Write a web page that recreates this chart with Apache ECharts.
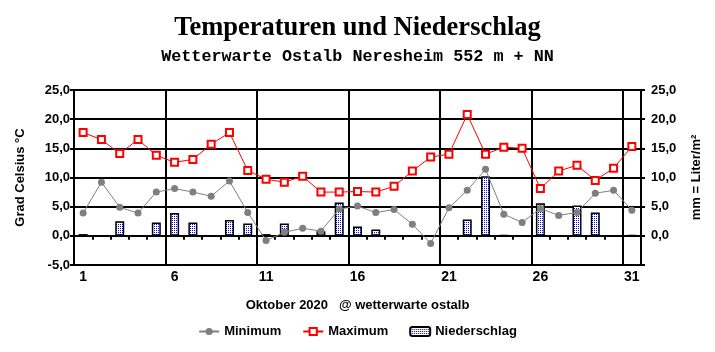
<!DOCTYPE HTML>
<html>

<head>
	<meta charset="utf-8" />
	<title>Temperaturen und Niederschlag</title>
	<script src="https://cdn.jsdelivr.net/npm/echarts@6/dist/echarts.min.js"></script>
	<style>
		body { margin: 0; background: #fff; }
		#main { width: 715px; height: 352px; }
	</style>
</head>

<body>
	<div id="main"></div>
	<script type="text/javascript">
		// Oktober 2020, days 1..31
		var days = [];
		for (var d = 1; d <= 31; d++) days.push(String(d));

		var tempMin = [3.9, 9.2, 4.9, 3.9, 7.5, 8.1, 7.5, 6.8, 9.4, 4.0,
			-0.8, 0.6, 1.3, 0.8, 4.6, 5.1, 4.0, 4.5, 2.0, -1.3,
			4.8, 7.8, 11.4, 3.7, 2.3, 4.7, 3.5, 4.0, 7.3, 7.8, 4.4];

		var tempMax = [17.7, 16.5, 14.1, 16.5, 13.8, 12.6, 13.1, 15.7, 17.7, 11.2,
			9.7, 9.2, 10.2, 7.5, 7.5, 7.6, 7.5, 8.5, 11.1, 13.5,
			14.0, 20.8, 14.0, 15.2, 15.0, 8.1, 11.1, 12.1, 9.5, 11.6, 15.3];

		var rain = [0.3, 0, 2.5, 0, 2.3, 3.9, 2.3, 0, 2.7, 2.1,
			0.3, 2.1, 0, 0.8, 5.7, 1.6, 1.1, 0, 0, 0,
			0, 2.8, 10.2, 0.1, 0, 5.6, 0, 5.2, 4.0, 0, 0.1];

		var fmt = function (v) { return v.toFixed(1).replace(".", ","); };

		// dotted blue fill for the rain bars
		var pat = document.createElement("canvas");
		pat.width = 2;
		pat.height = 2;
		var pctx = pat.getContext("2d");
		pctx.fillStyle = "#ffffff";
		pctx.fillRect(0, 0, 2, 2);
		pctx.fillStyle = "#0000ff";
		pctx.fillRect(0, 0, 1, 1);

		var bold = { fontFamily: "Liberation Sans, Arial", fontWeight: "bold", fontSize: 13, color: "#000" };

		var myChart = echarts.init(document.getElementById("main"));

		var option = {
			animation: false,
			backgroundColor: "#fff",
			title: [{
				text: "Temperaturen und Niederschlag",
				left: "center",
				top: 10,
				textStyle: { fontFamily: "Liberation Serif, Times New Roman", fontWeight: "bold", fontSize: 26.5, color: "#000" }
			}, {
				text: "Wetterwarte Ostalb Neresheim 552 m + NN",
				left: "center",
				top: 43,
				textStyle: { fontFamily: "Liberation Mono, Courier New", fontWeight: "bold", fontSize: 16.8, color: "#000" }
			}, {
				text: "Oktober 2020   @ wetterwarte ostalb",
				left: "center",
				top: 294,
				textStyle: bold
			}],
			legend: {
				bottom: 9,
				left: "center",
				itemGap: 21,
				itemWidth: 20,
				itemHeight: 9,
				textStyle: bold,
				data: ["Minimum", "Maximum", "Niederschlag"]
			},
			grid: {
				left: 74,
				right: 74,
				top: 90,
				bottom: 87,
				show: true,
				borderColor: "#000",
				borderWidth: 2
			},
			xAxis: [{
				type: "category",
				data: days,
				position: "bottom",
				axisLine: { onZero: false, lineStyle: { color: "#000", width: 2 } },
				axisTick: { show: false },
				axisLabel: { interval: 4, margin: 5, fontFamily: "Liberation Sans, Arial", fontWeight: "bold", fontSize: 14, color: "#000" },
				splitLine: { show: true, interval: 4, lineStyle: { color: "#000", width: 2 } }
			}, {
				type: "category",
				data: days,
				position: "bottom",
				axisLine: { onZero: true, lineStyle: { color: "#000", width: 2 } },
				axisTick: { show: true, interval: 0, length: 4, lineStyle: { color: "#000", width: 2 } },
				axisLabel: { show: false },
				splitLine: { show: false }
			}],
			yAxis: [{
				type: "value",
				min: -5,
				max: 25,
				interval: 5,
				position: "left",
				name: "Grad Celsius °C",
				nameLocation: "middle",
				nameRotate: 90,
				nameGap: 47,
				nameTextStyle: bold,
				axisLine: { show: true, lineStyle: { color: "#000", width: 2 } },
				axisTick: { show: true, length: 4, lineStyle: { color: "#000", width: 2 } },
				axisLabel: { formatter: fmt, margin: 4, fontFamily: "Liberation Sans, Arial", fontWeight: "bold", fontSize: 13, color: "#000" },
				splitLine: { show: true, lineStyle: { color: "#000", width: 2 } }
			}, {
				type: "value",
				min: -5,
				max: 25,
				interval: 5,
				position: "right",
				name: "mm = Liter/m²",
				nameLocation: "middle",
				nameRotate: 90,
				nameGap: 49,
				nameTextStyle: bold,
				axisLine: { show: true, lineStyle: { color: "#000", width: 2 } },
				axisTick: { show: true, length: 4, lineStyle: { color: "#000", width: 2 } },
				axisLabel: {
					formatter: function (v) { return v < 0 ? "" : fmt(v); },
					margin: 10, fontFamily: "Liberation Sans, Arial", fontWeight: "bold", fontSize: 13, color: "#000"
				},
				splitLine: { show: false }
			}],
			series: [{
				name: "Niederschlag",
				type: "bar",
				yAxisIndex: 1,
				barWidth: 9,
				z: 1,
				itemStyle: { color: { image: pat, repeat: "repeat" }, borderColor: "#000", borderWidth: 1.5 },
				data: rain
			}, {
				name: "Minimum",
				type: "line",
				yAxisIndex: 0,
				symbol: "circle",
				symbolSize: 7,
				z: 3,
				itemStyle: { color: "#7f7f7f" },
				lineStyle: { color: "#808080", width: 1 },
				data: tempMin
			}, {
				name: "Maximum",
				type: "line",
				yAxisIndex: 0,
				symbol: "emptyRect",
				symbolSize: 7,
				z: 4,
				itemStyle: { color: "#ff0000", borderWidth: 1.2 },
				lineStyle: { color: "#ff0000", width: 1 },
				data: tempMax
			}]
		};

		myChart.setOption(option);
	</script>
</body>

</html>
